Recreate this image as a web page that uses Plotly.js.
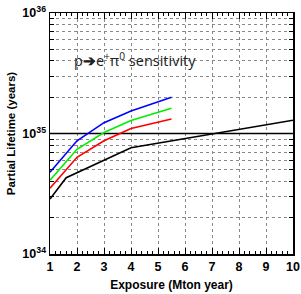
<!DOCTYPE html>
<html><head><meta charset="utf-8">
<script src="https://cdn.plot.ly/plotly-3.0.1.min.js"></script>
<style>body{margin:0;background:#fff}#c{width:301px;height:294px}</style>
</head><body><div id="c"></div>
<script>
// Data
const blueX = [1, 2, 3, 4, 5.5];
const blueY = [4.76e34, 8.7e34, 1.23e35, 1.54e35, 2.0e35];
const greenX = [1, 2, 3, 4, 5.5];
const greenY = [4.1e34, 7.4e34, 1.02e35, 1.28e35, 1.62e35];
const redX = [1, 2, 3, 4, 5.5];
const redY = [3.51e34, 6.35e34, 8.7e34, 1.10e35, 1.32e35];
const blackX = [1, 1.6, 4, 10];
const blackY = [2.86e34, 4.3e34, 7.62e34, 1.29e35];
const refX = [1, 10];
const refY = [1e35, 1e35];
const xTicks = [1,2,3,4,5,6,7,8,9,10];
const decades = [34, 35, 36];

const yMajor = decades.map(d => Math.pow(10, d));
const yMajorText = decades.map(d => '<b>10<sup>' + d + '</sup></b>');
const yMinor = [];
for (let d = 34; d < 36; d++) {
  for (let m = 2; m <= 9; m++) yMinor.push(m * Math.pow(10, d));
}

const line = (x, y, c) => ({x, y, type: 'scatter', mode: 'lines', line: {color: c, width: 1.6}, hoverinfo: 'skip'});
const data = [
  line(refX, refY, '#000000'),
  line(blackX, blackY, '#000000'),
  line(redX, redY, '#ff0000'),
  line(greenX, greenY, '#00ee00'),
  line(blueX, blueY, '#0000ff')
];
const tf = {family: 'Liberation Sans, Arial, sans-serif', size: 12.5, color: '#000'};
const layout = {
  width: 301, height: 294,
  margin: {l: 50, r: 8, t: 13, b: 40},
  paper_bgcolor: '#fff', plot_bgcolor: '#fff',
  showlegend: false,
  xaxis: {
    range: [1, 10], tickvals: xTicks, ticktext: xTicks.map(v => '<b>' + v + '</b>'),
    ticks: 'inside', ticklen: 6, tickcolor: '#000', tickwidth: 1,
    showline: true, linecolor: '#000', linewidth: 1.5, mirror: 'allticks',
    showgrid: true, gridcolor: '#888', griddash: 'dot', gridwidth: 1,
    zeroline: false, tickfont: tf,
    minor: {dtick: 0.2, ticks: 'inside', ticklen: 3, tickcolor: '#000', showgrid: false},
    title: {text: '<b>Exposure (Mton year)</b>', font: {family: 'Liberation Sans, Arial, sans-serif', size: 12, color: '#000'}, standoff: 8}
  },
  yaxis: {
    type: 'log', range: [34, 36], tickvals: yMajor, ticktext: yMajorText,
    ticks: 'inside', ticklen: 6, tickcolor: '#000', tickwidth: 1,
    showline: true, linecolor: '#000', linewidth: 1.5, mirror: 'allticks',
    showgrid: true, gridcolor: '#888', griddash: 'dot', gridwidth: 1,
    zeroline: false, tickfont: tf,
    minor: {tickmode: 'array', tickvals: yMinor, ticks: 'inside', ticklen: 4, tickcolor: '#000',
            showgrid: true, gridcolor: '#888', griddash: 'dot', gridwidth: 1},
    title: {text: '<b>Partial Lifetime (years)</b>', font: {family: 'Liberation Sans, Arial, sans-serif', size: 11.5, color: '#000'}, standoff: 4}
  },
  annotations: [{
    xref: 'paper', yref: 'paper', x: 0.09, y: 0.805, xanchor: 'left', yanchor: 'middle',
    text: 'p<b>➔</b>e<sup>+</sup>π<sup>0</sup> sensitivity', showarrow: false,
    font: {family: 'Open Sans, sans-serif', size: 14.5, color: '#222'}
  }]
};
Plotly.newPlot('c', data, layout, {staticPlot: true, displayModeBar: false});
</script></body></html>
